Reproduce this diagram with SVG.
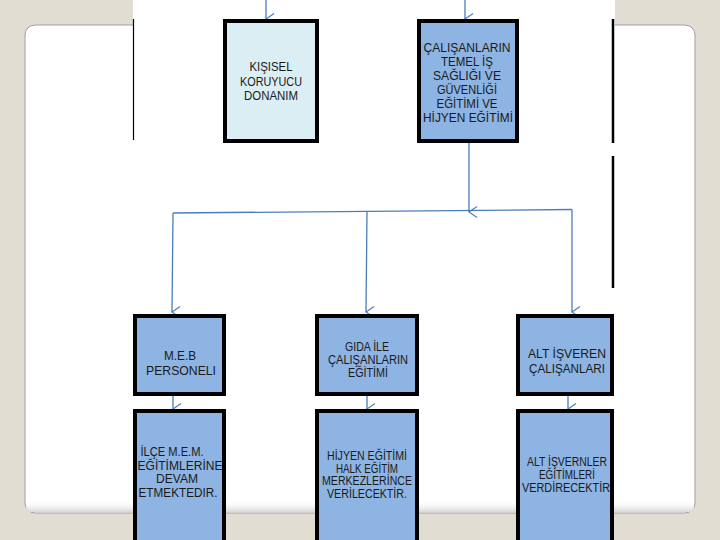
<svg xmlns="http://www.w3.org/2000/svg" width="720" height="540" viewBox="0 0 720 540">
<defs>
<marker id="ah" viewBox="0 0 14 12" refX="7" refY="11" markerWidth="14" markerHeight="12" markerUnits="userSpaceOnUse" orient="auto">
<path d="M1.5 3 L7 11 L12.5 3" fill="none" stroke="#4A7EBB" stroke-width="1.2"/>
</marker>
<linearGradient id="shadow" x1="0" y1="0" x2="0" y2="1">
<stop offset="0" stop-color="#ffffff" stop-opacity="0"/>
<stop offset="1" stop-color="#d8d8d8"/>
</linearGradient>
</defs>
<style>
.box{stroke:#000;stroke-width:4}
.dark{fill:#8DB4E2}
.light{fill:#DBEEF4}
.t{font-family:"Liberation Sans",Arial,sans-serif;font-size:13px;fill:#1a1a1a;text-anchor:middle}
.s{font-size:12px}
.c{fill:none;stroke:#4A7EBB;stroke-width:1.3}
.frame{stroke:#000;fill:none}
</style>
<rect x="0" y="0" width="720" height="540" fill="#E2DDD3"/>
<rect x="25" y="25" width="670" height="488" rx="10" fill="#fff" stroke="#A0A0A0" stroke-width="1"/>
<rect x="26" y="500" width="668" height="12" fill="url(#shadow)"/>
<rect x="133" y="0" width="482" height="290" fill="#fff"/>
<g id="frame-lines">
<line class="frame" x1="133.5" y1="19" x2="133.5" y2="140" stroke-width="1.2"/>
<line class="frame" x1="613" y1="19" x2="613" y2="143" stroke-width="2.5"/>
<line class="frame" x1="613" y1="156" x2="613" y2="288" stroke-width="2.5"/>
</g>
<g id="connectors">
<line class="c" x1="266" y1="0" x2="266" y2="19" marker-end="url(#ah)"/>
<line class="c" x1="465" y1="0" x2="465" y2="19" marker-end="url(#ah)"/>
<line class="c" x1="469" y1="143" x2="469" y2="212" marker-end="url(#ah)"/>
<line class="c" x1="173" y1="213" x2="572" y2="209.5"/>
<line class="c" x1="173" y1="213" x2="172" y2="312" marker-end="url(#ah)"/>
<line class="c" x1="367" y1="212" x2="366" y2="312" marker-end="url(#ah)"/>
<line class="c" x1="572" y1="209.5" x2="572" y2="312" marker-end="url(#ah)"/>
<line class="c" x1="173" y1="395" x2="173" y2="409" marker-end="url(#ah)"/>
<line class="c" x1="367" y1="395" x2="367" y2="409" marker-end="url(#ah)"/>
<line class="c" x1="568" y1="395" x2="568" y2="409" marker-end="url(#ah)"/>
</g>
<g id="kisisel">
<rect class="box light" x="225" y="21" width="92" height="120"/>
<text class="t" x="271" y="71" textLength="43" lengthAdjust="spacingAndGlyphs">KIŞISEL</text>
<text class="t" x="271" y="85.5" textLength="62" lengthAdjust="spacingAndGlyphs">KORUYUCU</text>
<text class="t" x="271" y="100" textLength="54" lengthAdjust="spacingAndGlyphs">DONANIM</text>
</g>
<g id="calisanlarin">
<rect class="box dark" x="419" y="21" width="98" height="120"/>
<text class="t" x="467" y="52" textLength="87" lengthAdjust="spacingAndGlyphs">ÇALIŞANLARIN</text>
<text class="t" x="467" y="66" textLength="52" lengthAdjust="spacingAndGlyphs">TEMEL İŞ</text>
<text class="t" x="467" y="80" textLength="68" lengthAdjust="spacingAndGlyphs">SAĞLIĞI VE</text>
<text class="t" x="467" y="94" textLength="60" lengthAdjust="spacingAndGlyphs">GÜVENLİĞİ</text>
<text class="t" x="467" y="108" textLength="61" lengthAdjust="spacingAndGlyphs">EĞİTİMİ VE</text>
<text class="t" x="468" y="122" textLength="90" lengthAdjust="spacingAndGlyphs">HİJYEN EĞİTİMİ</text>
</g>
<g id="meb">
<rect class="box dark" x="135" y="316" width="89" height="78"/>
<text class="t" x="180" y="360" textLength="32" lengthAdjust="spacingAndGlyphs">M.E.B</text>
<text class="t" x="181" y="375" textLength="70" lengthAdjust="spacingAndGlyphs">PERSONELI</text>
</g>
<g id="gida">
<rect class="box dark" x="317" y="316" width="100" height="78"/>
<text class="t s" x="367" y="351" textLength="44" lengthAdjust="spacingAndGlyphs">GIDA İLE</text>
<text class="t s" x="368" y="364" textLength="80" lengthAdjust="spacingAndGlyphs">ÇALIŞANLARIN</text>
<text class="t s" x="368" y="377" textLength="40" lengthAdjust="spacingAndGlyphs">EĞİTİMİ</text>
</g>
<g id="alt-isveren">
<rect class="box dark" x="518" y="316" width="94" height="78"/>
<text class="t" x="567" y="358" textLength="78" lengthAdjust="spacingAndGlyphs">ALT İŞVEREN</text>
<text class="t" x="567" y="373" textLength="76" lengthAdjust="spacingAndGlyphs">ÇALIŞANLARI</text>
</g>
<g id="ilce">
<rect class="box dark" x="135" y="411" width="89" height="140"/>
<text class="t s" x="172" y="456" textLength="63" lengthAdjust="spacingAndGlyphs">İLÇE M.E.M.</text>
<text class="t s" x="180" y="469.5" textLength="85" lengthAdjust="spacingAndGlyphs">EĞİTİMLERİNE</text>
<text class="t s" x="177" y="483" textLength="42" lengthAdjust="spacingAndGlyphs">DEVAM</text>
<text class="t s" x="178" y="496.5" textLength="79" lengthAdjust="spacingAndGlyphs">ETMEKTEDIR.</text>
</g>
<g id="hijyen">
<rect class="box dark" x="317" y="411" width="100" height="140"/>
<text class="t s" x="367" y="460" textLength="80" lengthAdjust="spacingAndGlyphs">HİJYEN EĞİTİMİ</text>
<text class="t s" x="367" y="472.5" textLength="62" lengthAdjust="spacingAndGlyphs">HALK EĞİTİM</text>
<text class="t s" x="367" y="485" textLength="90" lengthAdjust="spacingAndGlyphs">MERKEZLERİNCE</text>
<text class="t s" x="367" y="497.5" textLength="80" lengthAdjust="spacingAndGlyphs">VERİLECEKTİR.</text>
</g>
<g id="alt-isverenler">
<rect class="box dark" x="518" y="411" width="94" height="140"/>
<text class="t s" x="567" y="466" textLength="80" lengthAdjust="spacingAndGlyphs">ALT İŞVERNLER</text>
<text class="t s" x="567" y="479" textLength="56" lengthAdjust="spacingAndGlyphs">EĞİTİMLERİ</text>
<text class="t s" x="566" y="492" textLength="88" lengthAdjust="spacingAndGlyphs">VERDİRECEKTİR</text>
</g>
</svg>
